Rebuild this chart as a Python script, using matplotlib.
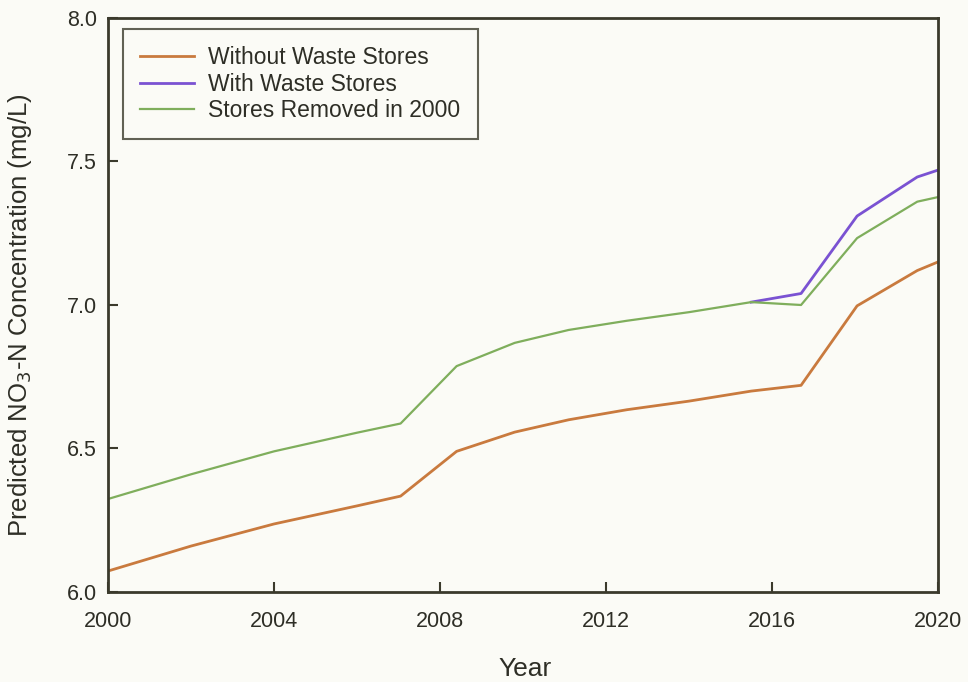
import numpy as np
import matplotlib.pyplot as plt

plt.rcParams['font.family'] = ['Liberation Sans', 'DejaVu Sans']

# Jahre und Werte
years = [2000, 2002, 2004, 2006, 2007.05, 2008.4, 2009.8, 2011.1, 2012.5, 2014, 2015.5, 2016.7, 2018.05, 2019.5, 2020]
ohne = [6.073, 6.16, 6.237, 6.30, 6.334, 6.49, 6.557, 6.60, 6.635, 6.665, 6.70, 6.72, 6.997, 7.12, 7.15]
entfernt = [6.324, 6.41, 6.49, 6.555, 6.587, 6.787, 6.868, 6.913, 6.945, 6.975, 7.01, 7.0, 7.233, 7.36, 7.376]

years_mit = [2015.5, 2016.7, 2018.05, 2019.5, 2020]
mit = [7.01, 7.04, 7.31, 7.446, 7.47]

bg = '#fbfbf6'
edge = '#3b3a2c'
txt = '#2e2e26'

fig = plt.figure(figsize=(9.68, 6.82), dpi=100, facecolor=bg)
ax = fig.add_axes([0.1116, 0.132, 0.8574, 0.8416], facecolor=bg)

ax.plot(years, ohne, color='#c97a3e', lw=2.0, label='Without Waste Stores')
ax.plot(years_mit, mit, color='#7a52d2', lw=2.0, label='With Waste Stores')
ax.plot(years, entfernt, color='#7fae5c', lw=1.6, label='Stores Removed in 2000')

ax.set_xlim(2000, 2020)
ax.set_ylim(6.0, 8.0)
ax.set_xticks([2000, 2004, 2008, 2012, 2016, 2020])
ax.set_yticks([6.0, 6.5, 7.0, 7.5, 8.0])
ax.set_yticklabels(['6.0', '6.5', '7.0', '7.5', '8.0'])
ax.tick_params(direction='in', length=7, width=1.5, color=edge, labelsize=15.5,
               labelcolor=txt)
ax.tick_params(axis='x', pad=14)
ax.tick_params(axis='y', pad=8)
for s in ax.spines.values():
    s.set_color(edge)
    s.set_linewidth(2.0)

ax.set_xlabel('Year', fontsize=19, color=txt)
ax.xaxis.set_label_coords(0.502, -0.114)
ax.set_ylabel('Predicted NO$_3$-N Concentration (mg/L)', fontsize=18.5, color=txt)
ax.yaxis.set_label_coords(-0.089, 0.483)

leg = ax.legend(loc='upper left', bbox_to_anchor=(0.018, 0.981, 0.428, 0.0), mode='expand',
                fontsize=16.5, frameon=True, fancybox=False, handlelength=2.35,
                handletextpad=0.6, borderpad=0.75, labelspacing=0.15, borderaxespad=0)
leg.get_frame().set_edgecolor(edge)
leg.get_frame().set_linewidth(1.5)
leg.get_frame().set_facecolor(bg)
for t in leg.get_texts():
    t.set_color(txt)

fig.savefig('out.png', dpi=100, facecolor=bg)
